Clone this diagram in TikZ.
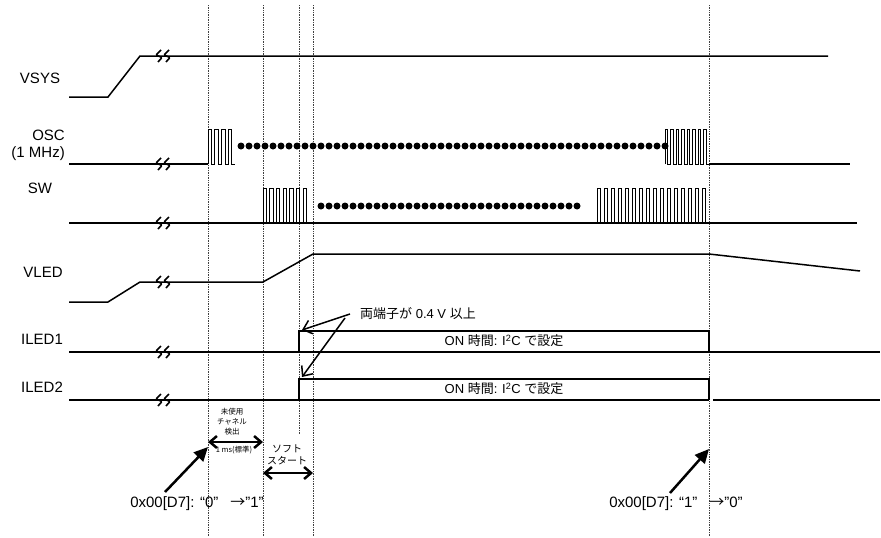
\documentclass[tikz,border=0pt]{standalone}
\usepackage{fontspec}
\setmainfont{Liberation Sans}
\newfontfamily\jp{Noto Sans CJK JP}
\usetikzlibrary{arrows.meta,positioning,calc}

\begin{document}
\begin{tikzpicture}[
    x=1pt, y=-1pt,
    sig/.style={line width=1.5pt},
    pulse/.style={line width=1pt},
    guide/.style={densely dotted, line width=0.7pt, black!75},
    signame/.style={font=\fontsize{15}{17}\selectfont, inner sep=0pt, align=right},
    note/.style={font=\fontsize{13}{15}\selectfont, inner sep=0pt},
    regtext/.style={font=\fontsize{15}{17}\selectfont, inner sep=0pt},
    tiny/.style={font=\jp\fontsize{7.5}{10}\selectfont, inner sep=0pt, align=center},
    pin/.style={-{Straight Barb[length=8pt,width=14pt]}, line width=1.5pt},
    span/.style={{Straight Barb[length=7pt,width=12pt]}-{Straight Barb[length=7pt,width=12pt]}, line width=2.5pt},
    reg/.style={-{Triangle[length=14pt,width=13pt]}, line width=2.5pt},
    brk/.pic={\draw[line width=1.6pt, rounded corners=1pt] (-1,-6) -- (-6,-1) -- (0,1.5) -- (-4,6);
              \draw[line width=1.6pt, rounded corners=1pt] (7,-6) -- (2,-1) -- (8,1.5) -- (4,6);}
  ]
  \useasboundingbox (0,0) rectangle (881,538);

  % time markers
  \foreach \gx/\gy in {208/537, 263/537, 299/435, 313/537, 709/537}
    \draw[guide] (\gx,5) -- (\gx,\gy);

  % signal names
  \node[signame] (vsys) at (40,78) {VSYS};
  \node[signame, anchor=east] (osc) at (65,145.5) {OSC\\(1 MHz)};
  \node[signame] (sw) at (40,188) {SW};
  \node[signame] (vled) at (43,272) {VLED};
  \node[signame] (iled1) at (42,339) {ILED1};
  \node[signame] (iled2) at (42,387) {ILED2};

  % VSYS
  \draw[sig] (69,97) -- (108,97) -- (140,56) -- (828,56);
  \pic at (162,56) {brk};

  % OSC
  \draw[sig] (69,164) -- (208,164);
  \draw[pulse] (208,164)
    \foreach \i in {1,...,4}{ -- ++(0,-35) -- ++(3.4,0) -- ++(0,35) -- ++(3.4,0)};
  \foreach \dx in {241,249,...,665} \fill (\dx,146) circle (3.5pt);
  \draw[pulse] (665,164)
    \foreach \i in {1,...,8}{ -- ++(0,-35) -- ++(2.75,0) -- ++(0,35) -- ++(2.75,0)};
  \draw[sig] (709,164) -- (850,164);
  \pic at (162,164) {brk};

  % SW
  \draw[sig] (69,223) -- (857,223);
  \draw[pulse] (263,223)
    \foreach \i in {1,...,7}{ -- ++(0,-35) -- ++(3.35,0) -- ++(0,35) -- ++(3.35,0)};
  \draw[pulse] (597,223)
    \foreach \i in {1,...,16}{ -- ++(0,-35) -- ++(3.5,0) -- ++(0,35) -- ++(3.5,0)};
  \foreach \dx in {321,329,...,577} \fill (\dx,206) circle (3.5pt);
  \pic at (162,223) {brk};

  % VLED
  \draw[sig] (69,302) -- (108,302) -- (140,282) -- (263,282) -- (313,254) -- (709,254) -- (860,271);
  \pic at (162,282) {brk};

  % ILED1
  \draw[sig] (69,352) -- (880,352);
  \draw[sig] (299,352) -- (299,331) -- (709,331) -- (709,352);
  \node[note] (on1) at (504,341) {ON {\jp 時間}: I\textsuperscript{2}C {\jp で設定}};
  \pic at (162,352) {brk};

  % ILED2
  \draw[sig] (69,400) -- (709,400);
  \draw[sig] (713,400) -- (880,400);
  \draw[sig] (299,400) -- (299,379) -- (709,379) -- (709,400);
  \node[note] (on2) at (504,389) {ON {\jp 時間}: I\textsuperscript{2}C {\jp で設定}};
  \pic at (162,400) {brk};

  % both pins above 0.4 V
  \node[note, anchor=west] (bothpins) at (360,314) {{\jp 両端子が} 0.4 V {\jp 以上}};
  \coordinate (tip1) at (302,330);
  \coordinate (tip2) at (302,377);
  \draw[pin] ($(bothpins.west)+(-10,0)$) -- (tip1);
  \draw[pin] ($(bothpins.west)+(-15,4)$) -- (tip2);

  % unused channel detection / soft start
  \node[tiny] (unused) at (232,422) {未使用\\チャネル\\検出};
  \node[tiny] (typ) at (234,450) {1 ms(標準)};
  \coordinate (detL) at (208,442);
  \coordinate (detR) at (263,442);
  \draw[span] (detL) -- (detR);
  \node[font=\jp\fontsize{10}{11.5}\selectfont, align=center, inner sep=0pt] (soft) at (287,455) {ソフト\\スタート};
  \coordinate (softL) at (263,473);
  \coordinate (softR) at (313,473);
  \draw[span] (softL) -- (softR);

  % register writes
  \node[regtext] (regon) at (197,504) {0x00[D7]: “0”\hspace{0.8em}{\jp →}”1”};
  \coordinate (onTail) at (165,492);
  \coordinate (onTip) at (208,447);
  \draw[reg] (onTail) -- (onTip);
  \node[regtext] (regoff) at (676,504) {0x00[D7]: “1”\hspace{0.8em}{\jp →}”0”};
  \coordinate (offTail) at (670,493);
  \coordinate (offTip) at (709,449);
  \draw[reg] (offTail) -- (offTip);
\end{tikzpicture}
\end{document}
